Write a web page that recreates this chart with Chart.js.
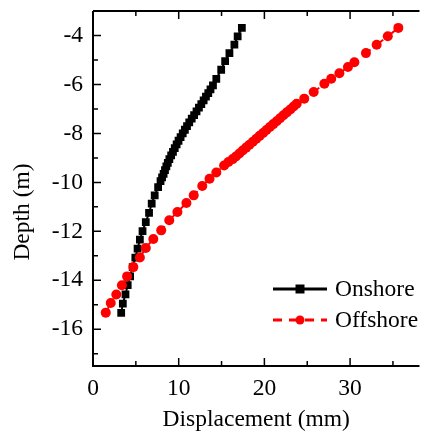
<!DOCTYPE html>
<html>
<head>
<meta charset="utf-8">
<script src="https://cdn.jsdelivr.net/npm/chart.js@4/dist/chart.umd.min.js"></script>
<style>
  html, body { margin: 0; padding: 0; background: #fff; overflow: hidden; }
  #chart { display: block; }
</style>
</head>
<body>
<canvas id="chart" width="425" height="436"></canvas>
<script>
// Onshore pile (black squares)
const onshoreDepth = [-15.33, -14.95, -14.57, -14.2, -13.84, -13.46, -13.07, -12.71, -12.34, -11.99,
    -11.62, -11.25, -10.87, -10.53, -10.19, -9.95, -9.8, -9.65, -9.5, -9.35, -9.2, -9.05, -8.9, -8.75,
    -8.6, -8.45, -8.3, -8.15, -8.0, -7.85, -7.7, -7.55, -7.4, -7.25, -7.1, -6.95, -6.8, -6.65, -6.5,
    -6.35, -6.2, -6.04, -5.77, -5.4, -5.05, -4.72, -4.37, -4.04, -3.69];
const onshoreDisp = [3.29, 3.48, 3.79, 4.05, 4.33, 4.63, 4.94, 5.2, 5.47, 5.78,
    6.16, 6.54, 6.85, 7.2, 7.6, 7.88, 8.06, 8.24, 8.4, 8.56, 8.73, 8.91, 9.12, 9.33,
    9.54, 9.76, 9.98, 10.22, 10.47, 10.72, 10.97, 11.23, 11.52, 11.8, 12.08, 12.36, 12.64, 12.91, 13.18,
    13.45, 13.71, 14.0, 14.39, 14.96, 15.42, 15.92, 16.5, 16.88, 17.37];

// Offshore pile (red circles)
const offshoreDepth = [-15.32, -14.93, -14.58, -14.2, -13.84, -13.46, -13.07, -12.68, -12.31, -11.96,
    -11.55, -11.21, -10.84, -10.53, -10.15, -9.85, -9.6, -9.31, -9.17, -9.05, -8.94, -8.82, -8.7, -8.58,
    -8.46, -8.34, -8.22, -8.1, -7.98, -7.86, -7.74, -7.62, -7.5, -7.38, -7.26, -7.14, -7.02, -6.9, -6.79,
    -6.58, -6.31, -5.97, -5.77, -5.54, -5.29, -5.09, -4.72, -4.38, -4.03, -3.69];
const offshoreDisp = [1.49, 2.07, 2.72, 3.37, 3.98, 4.71, 5.47, 6.16, 7.04, 7.96,
    8.9, 9.85, 10.9, 11.75, 12.75, 13.6, 14.39, 15.3, 15.8, 16.3, 16.68, 17.08, 17.47, 17.87,
    18.26, 18.66, 19.06, 19.45, 19.85, 20.24, 20.64, 21.04, 21.43, 21.83, 22.22, 22.62, 23.02, 23.41, 23.77,
    24.65, 25.75, 27.0, 27.8, 28.75, 29.75, 30.5, 31.85, 33.1, 34.4, 35.63];

const xMajorTicks = [0, 10, 20, 30];
const xMinorTicks = [5, 15, 25, 35];
const yMajorTicks = [-16, -14, -12, -10, -8, -6, -4];
const yMinorTicks = [-17, -15, -13, -11, -9, -7, -5];

const seriesLabels = ['Onshore', 'Offshore'];

const FONT = '"Liberation Serif", "Times New Roman", serif';
const FSIZE = 23.5;

function toPoints(xs, ys) {
    return xs.map((x, i) => ({ x: x, y: ys[i] }));
}

// axes frame, inward ticks, y title and legend
const framePlugin = {
    id: 'frame',
    afterDraw(chart) {
        const ctx = chart.ctx;
        const area = chart.chartArea;
        const xs = chart.scales.x;
        const ys = chart.scales.y;
        ctx.save();
        ctx.strokeStyle = '#000';
        ctx.lineWidth = 2;
        ctx.beginPath();
        ctx.moveTo(area.left, area.top);
        ctx.lineTo(area.left, area.bottom);
        ctx.lineTo(area.right, area.bottom);
        ctx.moveTo(area.left, area.top);
        ctx.lineTo(area.right, area.top);
        ctx.stroke();

        ctx.lineWidth = 1.5;
        ctx.beginPath();
        const tick = (vals, len) => {
            vals.forEach(v => {
                const px = xs.getPixelForValue(v);
                ctx.moveTo(px, area.bottom);
                ctx.lineTo(px, area.bottom - len);
                ctx.moveTo(px, area.top);
                ctx.lineTo(px, area.top + len);
            });
        };
        tick(xMajorTicks, 8);
        tick(xMinorTicks, 5);
        yMajorTicks.forEach(v => {
            const py = ys.getPixelForValue(v);
            ctx.moveTo(area.left, py);
            ctx.lineTo(area.left + 8, py);
        });
        yMinorTicks.forEach(v => {
            const py = ys.getPixelForValue(v);
            ctx.moveTo(area.left, py);
            ctx.lineTo(area.left + 5, py);
        });
        ctx.stroke();

        // y axis title
        ctx.fillStyle = '#000';
        ctx.font = FSIZE + 'px ' + FONT;
        ctx.textAlign = 'center';
        ctx.textBaseline = 'middle';
        ctx.translate(23, 212);
        ctx.rotate(-Math.PI / 2);
        ctx.fillText('Depth (m)', 0, 0);
        ctx.restore();

        // legend
        ctx.save();
        const rows = [289, 320];
        chart.data.datasets.forEach((ds, i) => {
            const y = rows[i];
            ctx.strokeStyle = ds.borderColor;
            ctx.lineWidth = 3;
            ctx.setLineDash(ds.borderDash || []);
            ctx.beginPath();
            ctx.moveTo(273, y);
            ctx.lineTo(327, y);
            ctx.stroke();
            ctx.setLineDash([]);
            ctx.fillStyle = ds.backgroundColor;
            ctx.beginPath();
            if (ds.pointStyle === 'rect') {
                ctx.rect(295.5, y - 4.5, 9, 9);
            } else {
                ctx.arc(300, y, 4.5, 0, Math.PI * 2);
            }
            ctx.fill();
            ctx.fillStyle = '#000';
            ctx.font = FSIZE + 'px ' + FONT;
            ctx.textAlign = 'left';
            ctx.textBaseline = 'middle';
            ctx.fillText(seriesLabels[i], 335, y + 1);
        });
        ctx.restore();
    }
};

new Chart(document.getElementById('chart'), {
    type: 'scatter',
    data: {
        datasets: [
            {
                label: seriesLabels[0],
                data: toPoints(onshoreDisp, onshoreDepth),
                showLine: true,
                borderColor: '#000000',
                backgroundColor: '#000000',
                borderWidth: 2,
                pointStyle: 'rect',
                pointRadius: 5.5,
                pointBorderWidth: 0,
                order: 1,
            },
            {
                label: seriesLabels[1],
                data: toPoints(offshoreDisp, offshoreDepth),
                showLine: true,
                borderColor: '#ff0000',
                backgroundColor: '#ff0000',
                borderWidth: 2,
                borderDash: [9, 7],
                pointStyle: 'circle',
                pointRadius: 5,
                pointBorderWidth: 0,
                order: 0,
            },
        ]
    },
    options: {
        responsive: false,
        animation: false,
        devicePixelRatio: 1,
        layout: { padding: { top: 11, right: 0, left: 0, bottom: 0 } },
        plugins: {
            legend: { display: false },
            tooltip: { enabled: false },
        },
        scales: {
            x: {
                type: 'linear',
                min: 0,
                max: 38.1,
                grid: { display: false, drawTicks: false },
                border: { display: false },
                afterFit: (scale) => {
                    scale.height = 70;
                    scale.paddingLeft = 0;
                    scale.paddingRight = 0;
                },
                afterBuildTicks: (scale) => { scale.ticks = xMajorTicks.map(v => ({ value: v })); },
                ticks: {
                    color: '#000',
                    padding: 9,
                    maxRotation: 0,
                    font: { family: FONT, size: FSIZE },
                },
                title: {
                    display: true,
                    text: 'Displacement (mm)',
                    color: '#000',
                    padding: { top: 0, bottom: 2 },
                    font: { family: FONT, size: FSIZE },
                },
            },
            y: {
                type: 'linear',
                min: -17.5,
                max: -3,
                grid: { display: false, drawTicks: false },
                border: { display: false },
                afterFit: (scale) => {
                    scale.width = 93;
                    scale.paddingTop = 0;
                    scale.paddingBottom = 0;
                },
                afterBuildTicks: (scale) => { scale.ticks = yMajorTicks.map(v => ({ value: v })); },
                ticks: {
                    color: '#000',
                    padding: 10,
                    font: { family: FONT, size: FSIZE },
                },
            },
        },
    },
    plugins: [framePlugin],
});
</script>
</body>
</html>
